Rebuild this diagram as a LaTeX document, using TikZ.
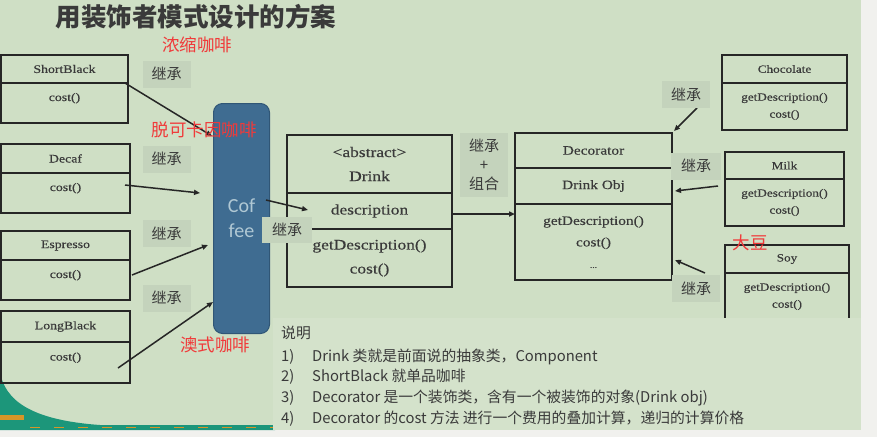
\documentclass[tikz,border=0pt]{standalone}
\usepackage{fontspec}
\setmainfont{Liberation Serif}
\newfontfamily\cjk{Noto Sans CJK SC}
\newfontfamily\boxfont[FakeStretch=1.2, FakeBold=0.4]{Liberation Serif}
\newfontfamily\coffeefont{Carlito}
\usetikzlibrary{%
	calc,%
	arrows.meta,%
	positioning,%
}
\definecolor{cbg}{RGB}{207, 223, 197}
\definecolor{cpanel}{RGB}{212, 226, 203}
\definecolor{cstrip}{RGB}{241, 241, 238}
\definecolor{clabel}{RGB}{196, 211, 188}
\definecolor{cline}{RGB}{38, 38, 38}
\definecolor{ctext}{RGB}{58, 58, 58}
\definecolor{cred}{RGB}{240, 58, 58}
\definecolor{ccoffee}{RGB}{63, 108, 145}
\definecolor{ccoffeeline}{RGB}{48, 86, 118}
\definecolor{ccoffeetext}{RGB}{176, 200, 212}
\definecolor{cteal}{RGB}{28, 150, 122}
\definecolor{corange}{RGB}{214, 150, 40}
\tikzset{
	>={Triangle[length=6pt, width=5pt]},%
	nodes={align=center},%
	classhead/.style={%
			draw=cline,%
			rectangle,%
			line width=1.6pt,%
			outer sep=0,%
			inner sep=0,%
			text=ctext,%
			minimum height=28},%
	classbody/.style={%
			draw=cline,%
			rectangle,%
			line width=1.6pt,%
			outer sep=0,%
			inner sep=0,%
			text=ctext,%
			minimum height=47},%
	leftcls/.style={%
			font={\boxfont\fontsize{11.5}{14}\selectfont}},%
	rightcls/.style={%
			font={\boxfont\fontsize{11}{17}\selectfont}},%
	drinkcls/.style={%
			minimum width=165,%
			font={\boxfont\fontsize{14.5}{24}\selectfont}},%
	deccls/.style={%
			minimum width=157,%
			font={\boxfont\fontsize{12.8}{21.5}\selectfont}},%
	inherit/.style={%
			fill=clabel,%
			inner sep=0,%
			minimum width=48,%
			minimum height=27,%
			text=ctext,%
			font={\cjk\fontsize{15}{19}\selectfont}},%
	redlabel/.style={%
			text=cred,%
			inner sep=0,%
			font={\cjk\fontsize{17.5}{20}\selectfont}},%
	coffeebar/.style={%
			fill=ccoffee,%
			draw=ccoffeeline,%
			line width=1pt,%
			rounded corners=9,%
			minimum width=56,%
			minimum height=230,%
			text=ccoffeetext,%
			font={\coffeefont\fontsize{20}{25}\selectfont}},%
	inh/.style={%
			->,%
			draw=cline,%
			line width=1.5pt},%
}

\begin{document}
\begin{tikzpicture}[x=1pt, y=-1pt]
	\useasboundingbox (0,0) rectangle (877,437);
	\fill[cstrip] (0,0) rectangle (877,437);
	\fill[cbg] (0,0) rectangle (861,430);
	% corner decoration
	\fill[cteal] (0,372) .. controls (5,400) and (30,420) .. (100,425) -- (275,425) -- (275,430) -- (0,430) -- cycle;
	\fill[corange] (0,415) rectangle (24,420);
	\draw[corange, line width=1.2pt, dash pattern=on 10pt off 14pt] (30,427.5) -- (275,427.5);

	\node[text=ctext, inner sep=0, font={\cjk\bfseries\fontsize{25.5}{28}\selectfont}] (title) at (196,17) {用装饰者模式设计的方案};

	% coffee classes
	\node[classhead, leftcls, minimum width=127, anchor=north west] (sbHead) at (1,55) {ShortBlack};
	\node[classbody, leftcls, minimum width=127, minimum height=40, text depth=12pt] (sbBody) [below=0pt of sbHead] {cost()};
	\node[classhead, leftcls, minimum width=129, minimum height=29, anchor=north west] (dfHead) at (1,144) {Decaf};
	\node[classbody, leftcls, minimum width=129, minimum height=40, text depth=12pt] (dfBody) [below=0pt of dfHead] {cost()};
	\node[classhead, leftcls, minimum width=129, minimum height=29, anchor=north west] (esHead) at (1,231) {Espresso};
	\node[classbody, leftcls, minimum width=129, minimum height=40, text depth=12pt] (esBody) [below=0pt of esHead] {cost()};
	\node[classhead, leftcls, minimum width=129, minimum height=31, anchor=north west] (lbHead) at (1,311) {LongBlack};
	\node[classbody, leftcls, minimum width=129, minimum height=41, text depth=12pt] (lbBody) [below=0pt of lbHead] {cost()};

	\node[coffeebar, anchor=north west] (coffee) at (213,103) {Cof\\fee};

	% Drink and Decorator
	\node[classhead, drinkcls, minimum height=58, anchor=north west] (drHead) at (287,135) {<abstract>\\Drink};
	\node[classbody, drinkcls, minimum height=36] (drMid) [below=0pt of drHead] {description};
	\node[classbody, drinkcls, minimum height=58] (drBody) [below=0pt of drMid] {getDescription()\\cost()};

	\node[classhead, deccls, minimum height=35, anchor=north west] (dcHead) at (515,133) {Decorator};
	\node[classbody, deccls, minimum height=36] (dcMid) [below=0pt of dcHead] {Drink Obj};
	\node[classbody, deccls, minimum height=76] (dcBody) [below=0pt of dcMid] {getDescription()\\cost()\\{\fontsize{8}{21.5}\selectfont ...}};

	% condiments
	\node[classhead, rightcls, minimum width=125, anchor=north west] (chHead) at (722,55) {Chocolate};
	\node[classbody, rightcls, minimum width=125] (chBody) [below=0pt of chHead] {getDescription()\\cost()};
	\node[classhead, rightcls, minimum width=119, minimum height=27, anchor=north west] (mkHead) at (725,152) {Milk};
	\node[classbody, rightcls, minimum width=119] (mkBody) [below=0pt of mkHead] {getDescription()\\cost()};
	\node[classhead, rightcls, minimum width=124, anchor=north west] (syHead) at (725,245) {Soy};
	\node[classbody, rightcls, minimum width=124] (syBody) [below=0pt of syHead] {getDescription()\\cost()};

	% arrows
	\draw[inh] ($(sbHead.south east)+(-3,0)$) to ($(coffee.north west)+(-1,33)$);
	\draw[inh] ($(dfBody.north east)+(-5,12)$) to ($(coffee.north west)+(-13,90)$);
	\draw[inh] ($(esBody.north east)+(2,15)$) to ($(coffee.north west)+(-5,142)$);
	\draw[inh] ($(lbBody.north east)+(-12,26)$) to ($(coffee.north west)+(0,199)$);
	\draw[inh] ($(coffee.north east)+(-4,97)$) to ($(drMid.west)+(21,-1)$);
	\coordinate (drLink) at ($(drMid.east)+(0,3)$);
	\draw[inh] (drLink) to (drLink -| dcBody.west);
	\draw[inh] ($(chHead.south west)+(-25,25)$) to ($(dcHead.north east)+(2,-2)$);
	\draw[inh] ($(mkBody.north west)+(-7,7)$) to ($(dcMid.east)+(3,5)$);
	\draw[inh] ($(syHead.south west)+(-20,0)$) to ($(dcBody.east)+(3,18)$);

	% labels
	\node[inherit] (ihSb) at (166.5,74) {继承};
	\node[inherit] (ihDf) at (166.5,159) {继承};
	\node[inherit] (ihEs) at (166.5,233.5) {继承};
	\node[inherit] (ihLb) at (166.5,298) {继承};
	\node[inherit, minimum width=50, minimum height=26] (ihDr) at (287,230) {继承};
	\node[inherit, minimum height=64] (ihDc) at (484,165) {继承\\+\\组合};
	\node[inherit] (ihCh) at (686,94.5) {继承};
	\node[inherit, minimum width=50] (ihMk) at (696,166) {继承};
	\node[inherit] (ihSy) at (696,288.5) {继承};

	\node[redlabel] (nongsuo) at (197,45) {浓缩咖啡};
	\node[redlabel] (decafcn) at (204,130) {脱可卡因咖啡};
	\node[redlabel] (aoshi) at (215,345) {澳式咖啡};
	\node[redlabel] (dadou) at (750,243) {大豆};

	% notes
	\fill[cpanel] (273,318) rectangle (861,430);
	\node[anchor=north west, inner sep=0, text=ctext, font={\cjk\fontsize{14.8}{20.7}\selectfont}] (notes) at (281,323.5) {%
		\begin{tabular}{@{}p{31pt}@{}l@{}}
			\multicolumn{2}{@{}l}{说明}                                     \\[2.3pt]
			1) & Drink 类就是前面说的抽象类，Component                        \\
			2) & ShortBlack 就单品咖啡                                       \\
			3) & Decorator 是一个装饰类，含有一个被装饰的对象(Drink obj)    \\
			4) & Decorator 的cost 方法 进行一个费用的叠加计算，递归的计算价格 \\
		\end{tabular}};
\end{tikzpicture}
\end{document}
